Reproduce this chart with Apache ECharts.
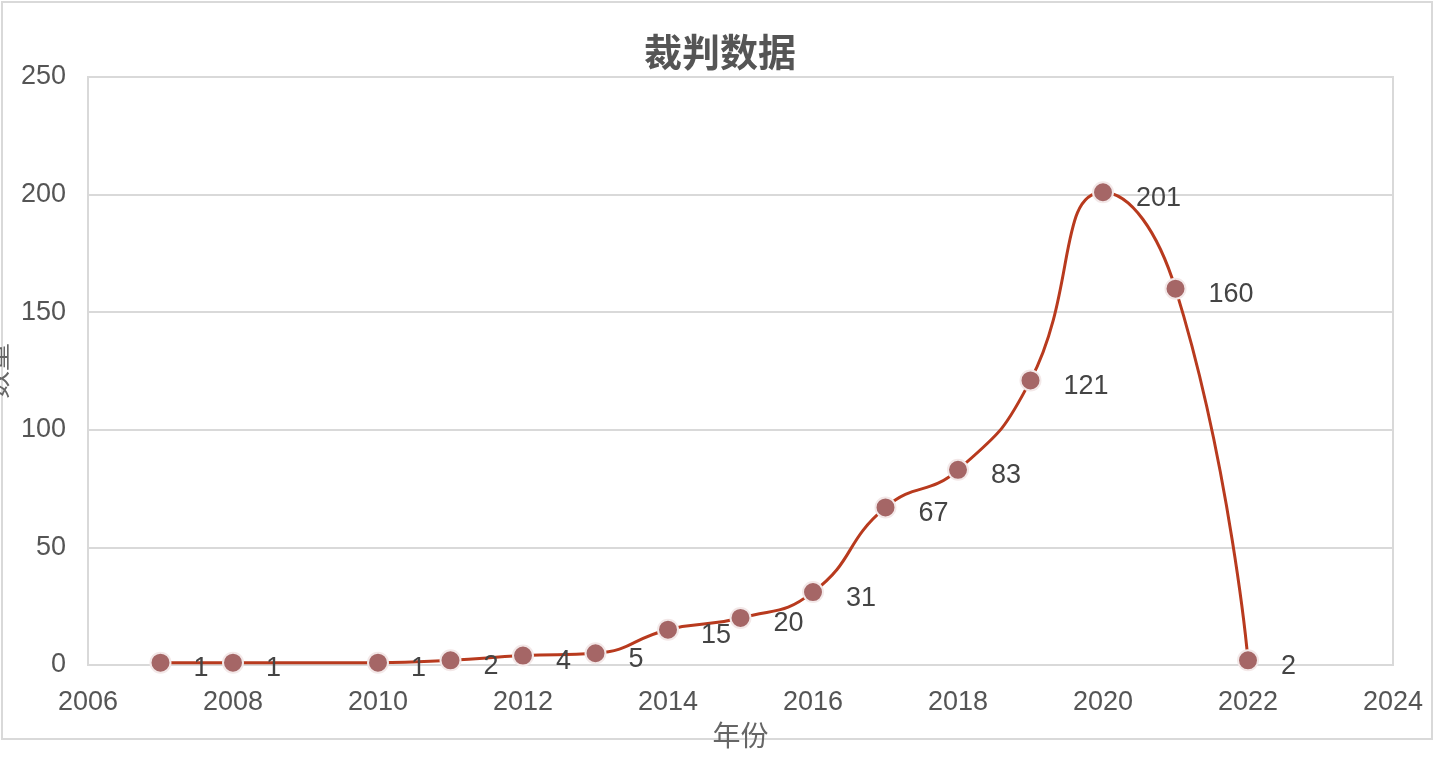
<!DOCTYPE html>
<html><head><meta charset="utf-8">
<script src="https://cdn.jsdelivr.net/npm/echarts@6/dist/echarts.min.js"></script>
<style>html,body{margin:0;padding:0;background:#fff}#c{width:1440px;height:758px}</style>
</head><body><div id="c"></div>
<script>
const years = [2007, 2008, 2010, 2011, 2012, 2013, 2014, 2015, 2016, 2017, 2018, 2019, 2020, 2021, 2022];
const counts = [1, 1, 1, 2, 4, 5, 15, 20, 31, 67, 83, 121, 201, 160, 2];
const chart = echarts.init(document.getElementById('c'));
const font = '"Noto Sans CJK SC", "Liberation Sans", sans-serif';
chart.setOption({
  animation: false,
  graphic: [{type:'rect', shape:{x:2,y:2,width:1430,height:737}, style:{fill:'none', stroke:'#d9d9d9', lineWidth:2}}],
  title: {text:'裁判数据', left:'center', top:28, textStyle:{fontSize:38, fontWeight:'bold', color:'#555', fontFamily:font}},
  grid: {left:88, right:47, top:77, bottom:93, containLabel:false, outerBoundsMode:'none', show:true, borderColor:'#d9d9d9', borderWidth:2},
  xAxis: {type:'value', min:2006, max:2024, interval:2, name:'年份', nameLocation:'middle', nameGap:40,
    nameTextStyle:{fontSize:28, color:'#666', fontFamily:font},
    axisLine:{show:false}, axisTick:{show:false}, splitLine:{show:false},
    axisLabel:{fontSize:27, color:'#555', margin:24, formatter:v=>String(v), fontFamily:'"Liberation Sans", sans-serif'}},
  yAxis: {type:'value', min:0, max:250, interval:50, name:'数量', nameLocation:'middle', nameGap:44,
    nameTextStyle:{fontSize:28, color:'#666', fontFamily:font},
    axisLine:{show:false}, axisTick:{show:false},
    splitLine:{lineStyle:{color:'#d9d9d9', width:2}},
    axisLabel:{fontSize:27, color:'#555', margin:22, fontFamily:'"Liberation Sans", sans-serif'}},
  series: [{type:'line', smooth:true, data: years.map((y,i)=>[y,counts[i]]),
    lineStyle:{color:'#b83a1e', width:3},
    symbol:'circle', symbolSize:20,
    itemStyle:{color:'#a56666', borderColor:'#f3e8e8', borderWidth:2},
    label:{show:true, position:'right', distance:22, offset:[0,6], fontSize:27, color:'#444',
      fontFamily:'"Liberation Sans", sans-serif', formatter:p=>p.value[1]}}]
});
</script></body></html>
